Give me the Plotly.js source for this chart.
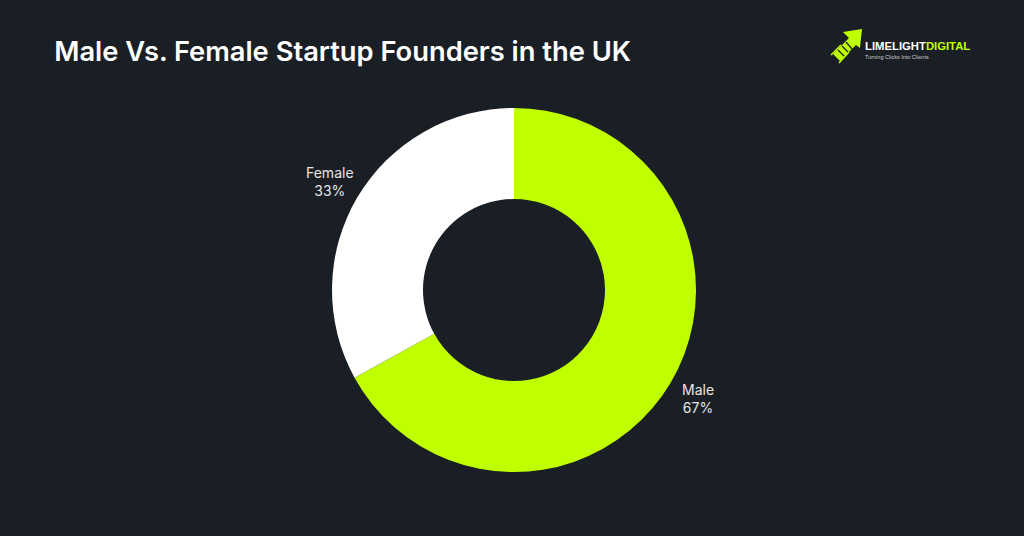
<!DOCTYPE html>
<html><head><meta charset="utf-8">
<script src="https://cdn.plot.ly/plotly-3.0.1.min.js"></script>
<style>html,body{margin:0;padding:0;background:#1a1f26;}#chart{width:1024px;height:536px;}</style>
</head><body><div id="chart"></div>
<script>
const categories = ["Male", "Female"];
const values = [67, 33];
const colors = ["#bfff00", "#ffffff"];

const W = 1024, H = 536;
const CX = 514, CY = 290, R = 182, LABEL_R = 214;
const px = (x, y) => [x / W, 1 - y / H];
function pathPx(pts) {
  return pts.map((p, i) => { const q = px(p[0], p[1]); return (i ? "L " : "M ") + q[0].toFixed(4) + " " + q[1].toFixed(4); }).join(" ") + " Z";
}
function linePx(x0, y0, x1, y1, w, c) {
  const a = px(x0, y0), b = px(x1, y1);
  return {type: "line", xref: "paper", yref: "paper", x0: a[0], y0: a[1], x1: b[0], y1: b[1], line: {color: c || "#bfff00", width: w}};
}

const trace = {
  type: "pie",
  labels: categories,
  values: values,
  hole: 0.5,
  sort: false,
  direction: "clockwise",
  rotation: 0,
  marker: {colors: colors, line: {width: 0}},
  textinfo: "none",
  domain: {x: [(CX - R) / W, (CX + R) / W], y: [(H - CY - R) / H, (H - CY + R) / H]},
  showlegend: false,
  hoverinfo: "label+percent"
};

// slice labels placed at each slice's mid-angle (computed from the data)
const total = values.reduce((a, b) => a + b, 0);
let cum = 0;
const sliceLabels = categories.map((c, i) => {
  const mid = (cum + values[i] / 2) / total * 2 * Math.PI;
  cum += values[i];
  const x = CX + LABEL_R * Math.sin(mid), y = CY - LABEL_R * Math.cos(mid);
  const p = px(x, y);
  return {xref: "paper", yref: "paper", x: p[0], y: p[1], xanchor: "center", yanchor: "middle", showarrow: false,
    text: c + "<br>" + Math.round(values[i] / total * 100) + "%", align: "center",
    font: {family: "Inter, sans-serif", size: 14, color: "#e6e6e6"}};
});

const layout = {
  width: W, height: H,
  margin: {l: 0, r: 0, t: 0, b: 0},
  paper_bgcolor: "#1a1f26",
  plot_bgcolor: "#1a1f26",
  showlegend: false,
  title: {text: "Male Vs. Female Startup Founders in the UK", x: 0.053, xanchor: "left", y: 1 - 51 / H, yanchor: "middle",
    font: {family: "Inter, sans-serif", size: 27.3, color: "#ffffff", weight: 600}},
  annotations: sliceLabels.concat([
    {xref: "paper", yref: "paper", x: 863 / W, y: 1 - 46 / H, xanchor: "left", yanchor: "middle", showarrow: false,
     text: "<b>LIMELIGHT</b><span style='color:#bfff00'><b>DIGITAL</b></span>",
     font: {family: "Liberation Sans Narrow, sans-serif", size: 11.3, color: "#ffffff", stretch: "condensed"}},
    {xref: "paper", yref: "paper", x: 863 / W, y: 1 - 57 / H, xanchor: "left", yanchor: "middle", showarrow: false,
     text: "Turning Clicks Into Clients", font: {family: "Liberation Sans Narrow, sans-serif", size: 5.5, color: "#cccccc", stretch: "condensed"}}
  ]),
  shapes: [
    {type: "path", xref: "paper", yref: "paper", fillcolor: "#bfff00", line: {width: 0},
     path: pathPx([[862, 29], [843, 32], [849, 38], [833, 54], [840, 61], [856, 45], [860, 48]])},
    linePx(838, 50, 845, 57, 1.2, "#1a1f26"),
    linePx(842, 46, 849, 53, 1.2, "#1a1f26"),
    linePx(846, 42, 852, 49, 1.2, "#1a1f26"),
    linePx(841, 45, 831, 55, 1.5),
    linePx(849, 52, 839, 63, 1.5)
  ]
};

Plotly.newPlot("chart", [trace], layout, {displayModeBar: false, staticPlot: true});
</script></body></html>
